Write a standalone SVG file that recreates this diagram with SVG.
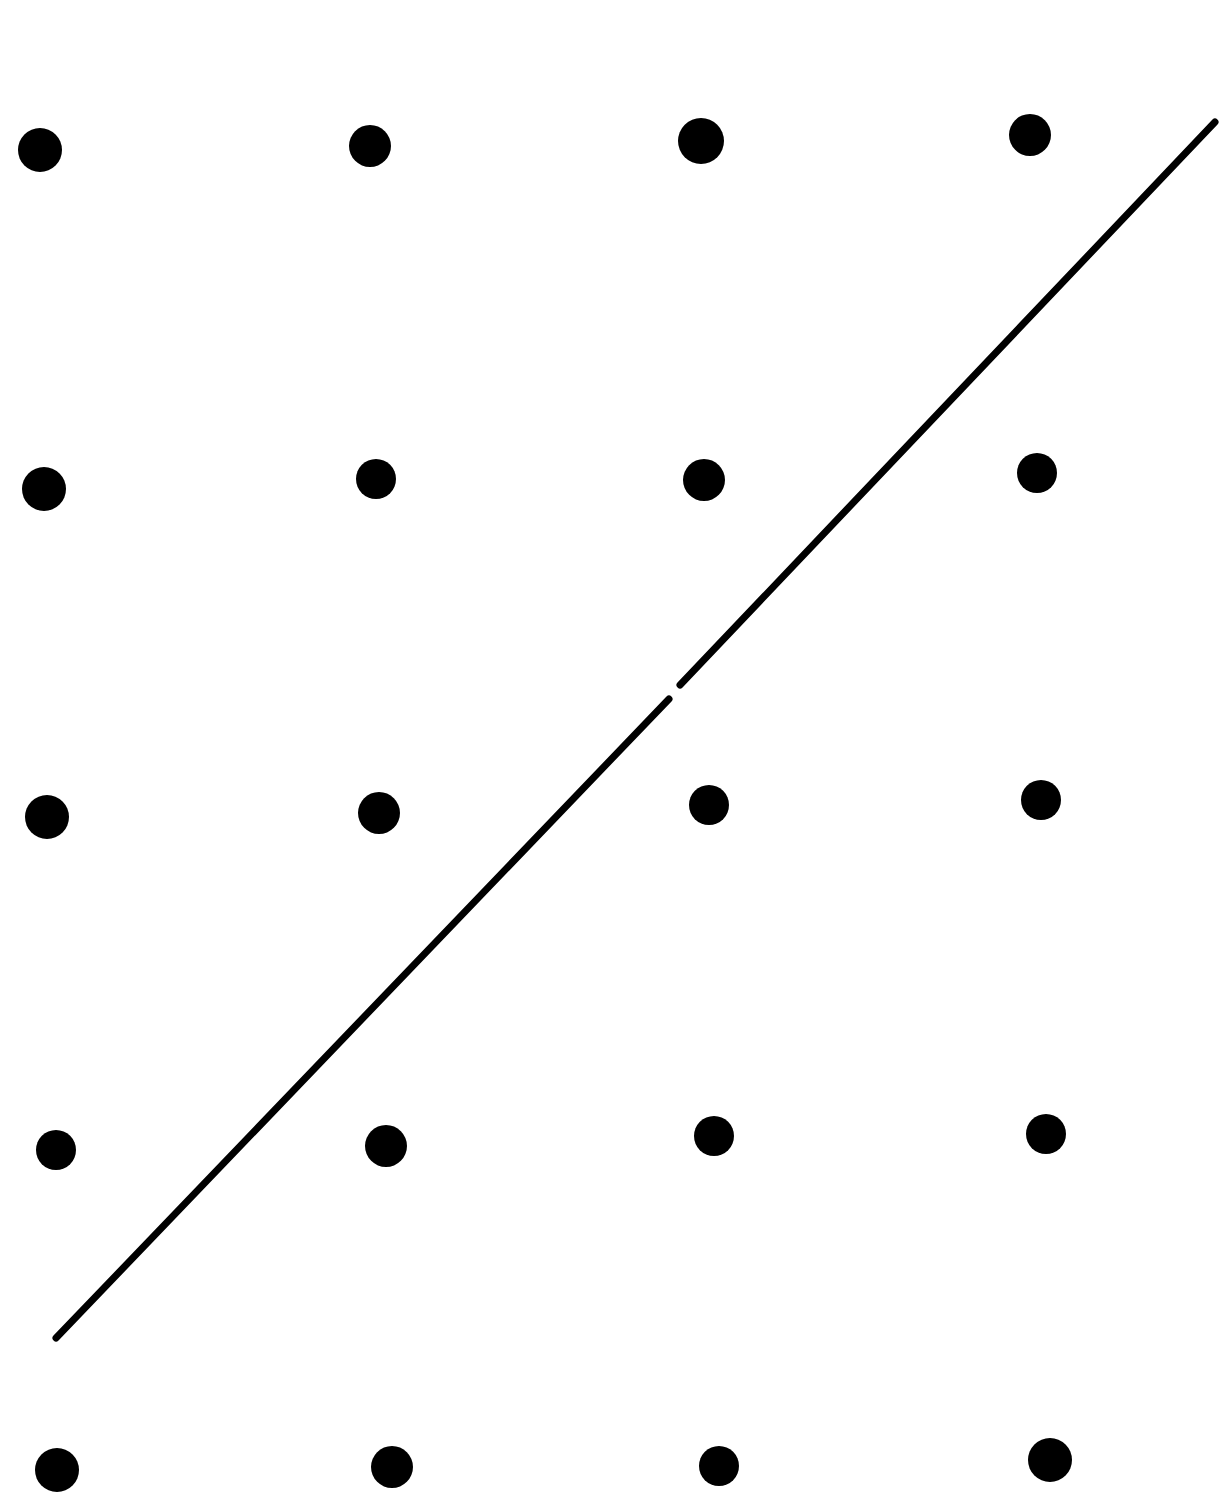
<svg xmlns="http://www.w3.org/2000/svg" width="1226" height="1512" viewBox="0 0 1226 1512">
<style>
.d{fill:#000}
.l{stroke:#000;stroke-width:7;stroke-linecap:round;fill:none}
</style>
<rect width="1226" height="1512" fill="#fff"/>
<g id="dots">
<circle class="d" cx="40" cy="150" r="22"/>
<circle class="d" cx="370" cy="146" r="21"/>
<circle class="d" cx="701" cy="141" r="23"/>
<circle class="d" cx="1030" cy="135" r="21"/>
<circle class="d" cx="44" cy="489" r="22"/>
<circle class="d" cx="376" cy="479" r="20"/>
<circle class="d" cx="704" cy="480" r="21"/>
<circle class="d" cx="1037" cy="473" r="20"/>
<circle class="d" cx="47" cy="817" r="22"/>
<circle class="d" cx="379" cy="813" r="21"/>
<circle class="d" cx="709" cy="805" r="20"/>
<circle class="d" cx="1041" cy="800" r="20"/>
<circle class="d" cx="56" cy="1150" r="20"/>
<circle class="d" cx="386" cy="1146" r="21"/>
<circle class="d" cx="714" cy="1136" r="20"/>
<circle class="d" cx="1046" cy="1134" r="20"/>
<circle class="d" cx="57" cy="1470" r="22"/>
<circle class="d" cx="392" cy="1467" r="21"/>
<circle class="d" cx="719" cy="1466" r="20"/>
<circle class="d" cx="1050" cy="1460" r="22"/>
</g>
<g id="connectors">
<line class="l" x1="56" y1="1338" x2="669" y2="699"/>
<line class="l" x1="680" y1="685" x2="1215" y2="122"/>
</g>
</svg>
